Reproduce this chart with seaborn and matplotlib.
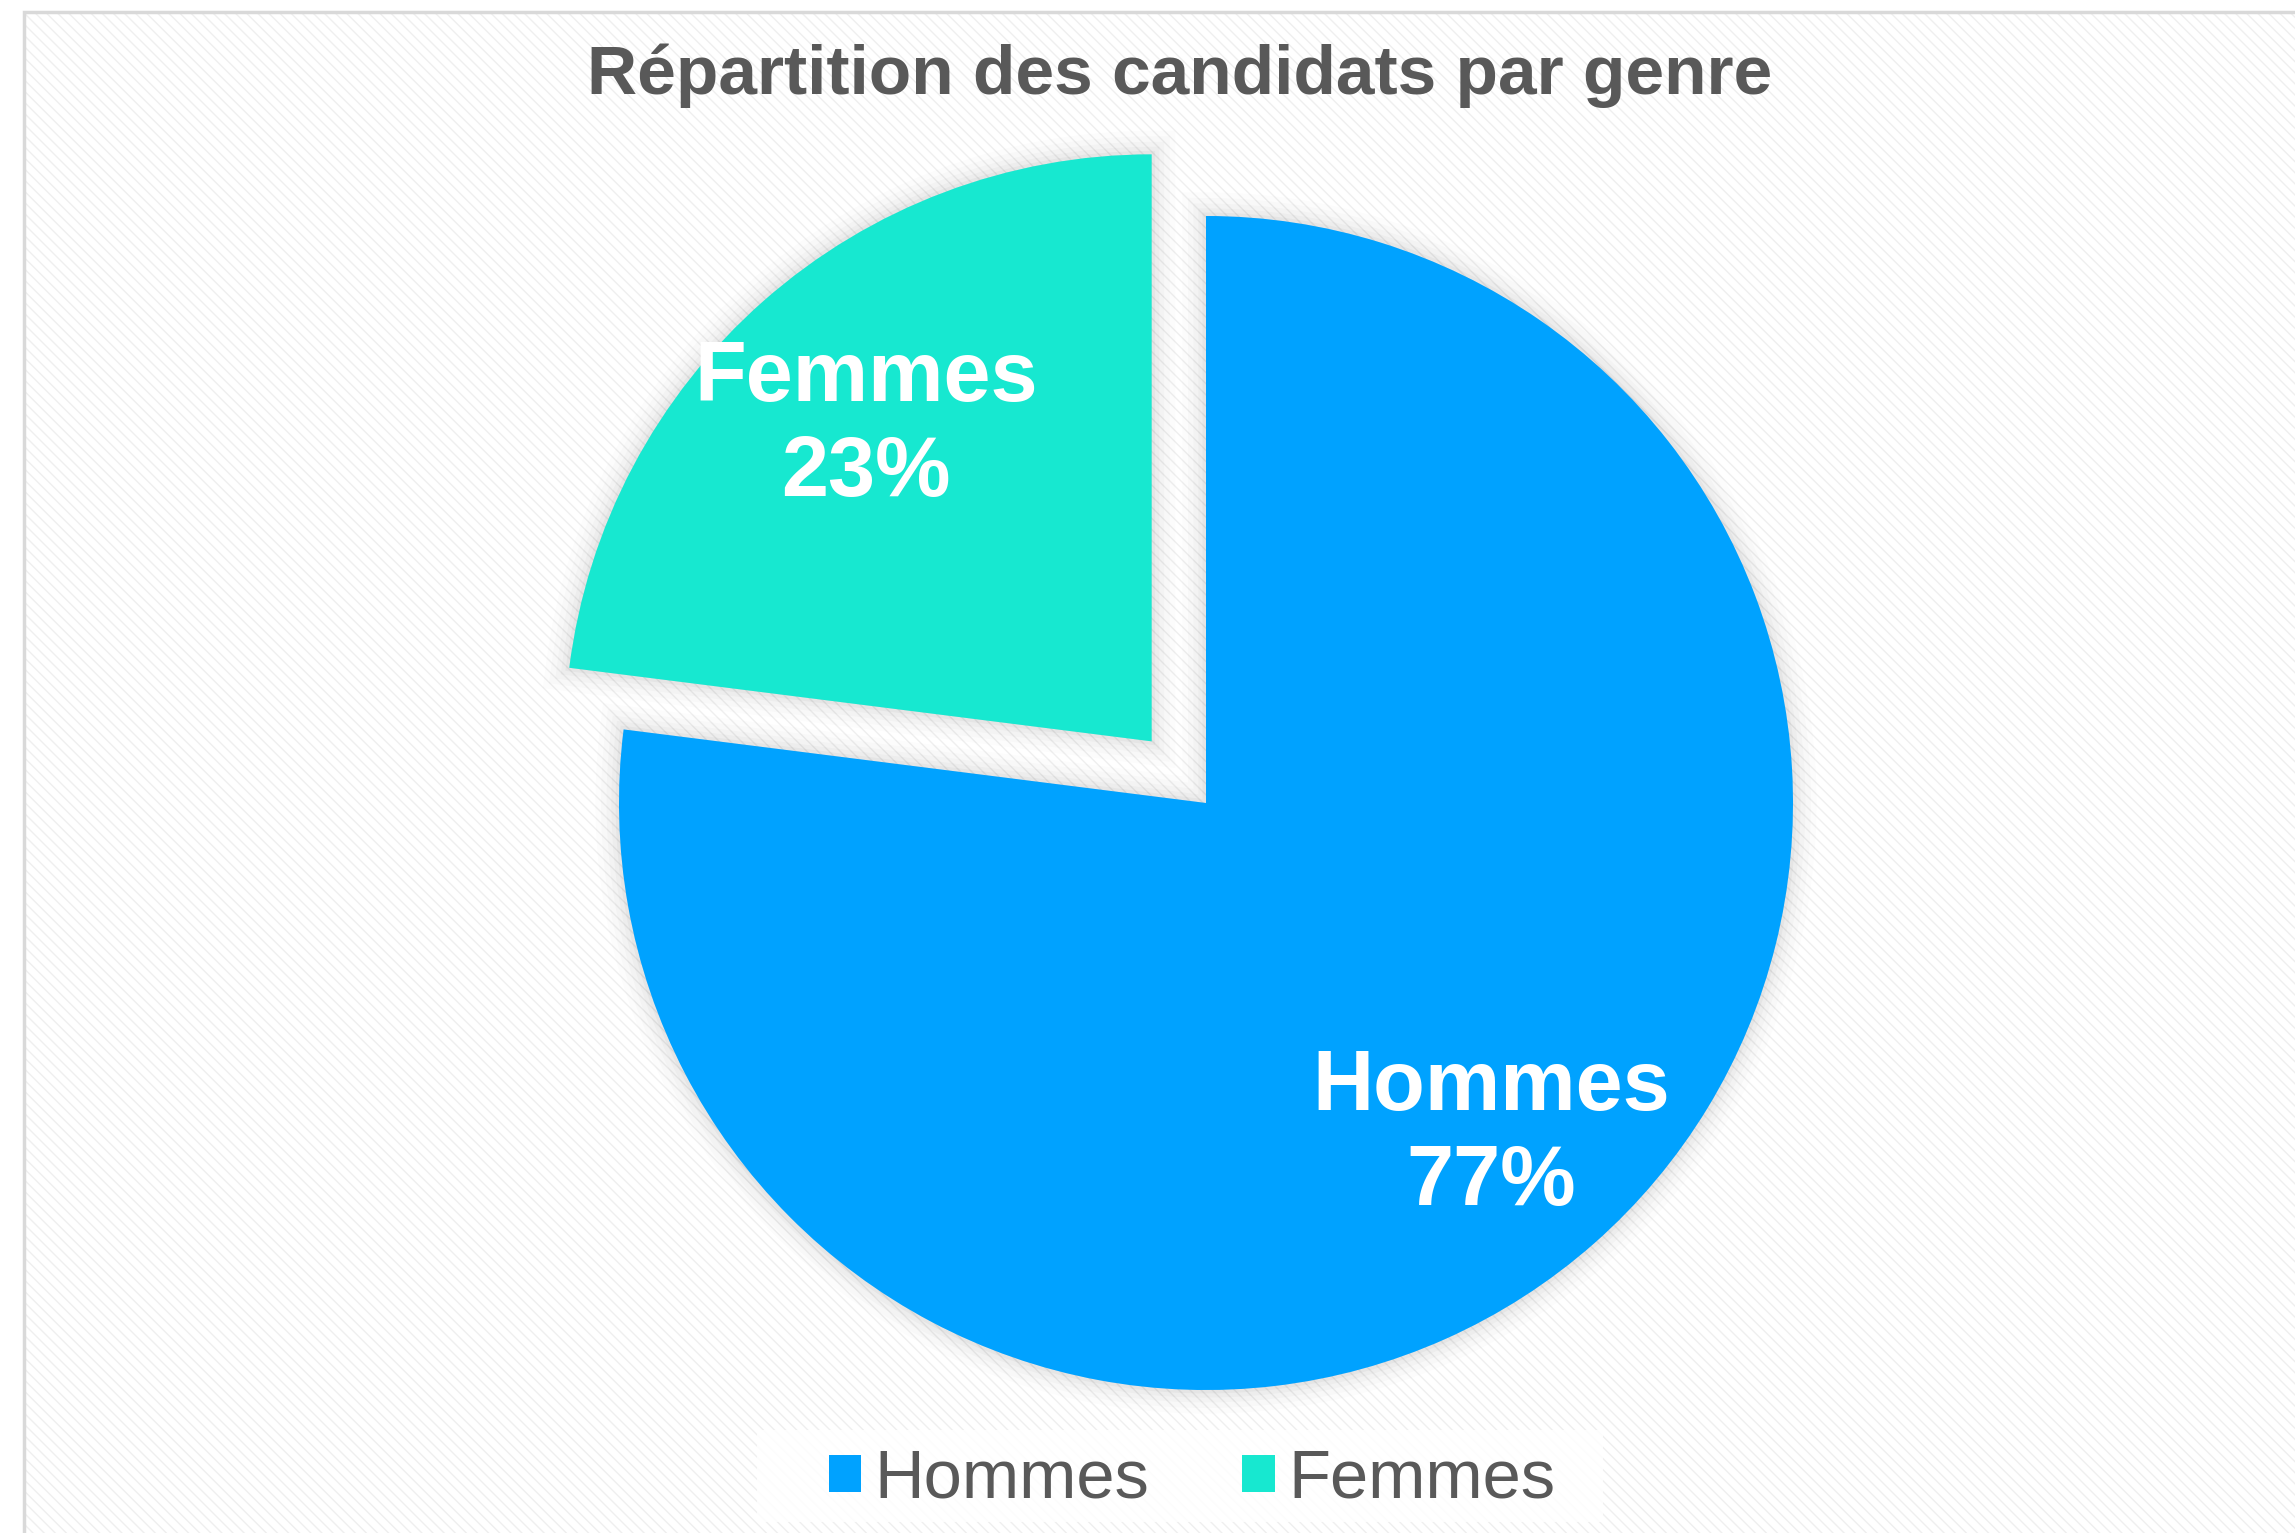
import matplotlib
matplotlib.use("Agg")
import matplotlib.pyplot as plt
import matplotlib.patheffects as pe
from matplotlib.patches import Rectangle, Patch
import seaborn as sns

# ---- data ----
categories = ["Hommes", "Femmes"]
values = [77, 23]
colors = ["#00A2FF", "#17E8D0"]
title = "Répartition des candidats par genre"

sns.set_theme(style="white")
plt.rcParams["font.family"] = ["Liberation Sans", "DejaVu Sans"]
plt.rcParams["hatch.linewidth"] = 1.0
plt.rcParams["hatch.color"] = "#efefef"

W, H, DPI = 2295, 1533, 100
fig = plt.figure(figsize=(W / DPI, H / DPI), dpi=DPI)
fig.patch.set_facecolor("white")

# chart-area background (diagonal fine stripes) and frame
x0, y0 = 24 / W, 1 - 12 / H
bg = Rectangle((x0, -0.05), 1.1 - x0, y0 + 0.05, transform=fig.transFigure,
               facecolor="white", edgecolor="#efefef", hatch="\\\\\\", linewidth=0,
               zorder=-10)
fig.patches.append(bg)
frame = Rectangle((x0, -0.05), 1.1 - x0, y0 + 0.05, transform=fig.transFigure,
                  facecolor="none", edgecolor="#d9d9d9", linewidth=2.5, zorder=-9)
fig.patches.append(frame)

# legend background box
lb = Rectangle((757 / W, 1 - 1522 / H), (1603 - 757) / W, (1522 - 1430) / H,
               transform=fig.transFigure, facecolor="white", alpha=0.85,
               edgecolor="none", zorder=-8)
fig.patches.append(lb)

ax = fig.add_axes([0, 0, 1, 1])
ax.set_facecolor("none")

cx, cy, R = 1206, 803, 587
it = iter(categories)
wedges, texts, autotexts = ax.pie(
    values, colors=colors, startangle=90, counterclock=False,
    explode=[0, 0.14], radius=1,
    autopct=lambda p: f"{next(it)}\n{p:.0f}%", pctdistance=0.735,
    textprops=dict(color="white", fontsize=61, fontweight="bold"),
    wedgeprops=dict(linewidth=0),
)
for t in autotexts:
    t.set_linespacing(1.25)
    x, y = t.get_position()
    t.set_position((x, y - 0.015))

shadow = []
for w, a in [(34, 0.012), (26, 0.015), (18, 0.02), (11, 0.025), (5, 0.03)]:
    shadow.append(pe.Stroke(linewidth=w, foreground="black", alpha=a))
shadow.append(pe.Normal())
for w in wedges:
    w.set_path_effects(shadow)

ax.set_xlim(-cx / R, (W - cx) / R)
ax.set_ylim(-(H - cy) / R, cy / R)
ax.set_aspect("auto")
ax.axis("off")

fig.text(1180 / W, 1 - 76 / H, title, ha="center", va="center",
         fontsize=50, fontweight="bold", color="#595959")

handles = [Patch(facecolor=c, edgecolor="none", label=l) for c, l in zip(colors, categories)]
leg = fig.legend(handles=handles, loc="center", bbox_to_anchor=(1192 / W, 1 - 1480 / H),
                 ncol=2, frameon=False, fontsize=49.5, handlelength=0.47, handleheight=0.47,
                 handletextpad=0.2, columnspacing=1.35, borderpad=0.2)
for t in leg.get_texts():
    t.set_color("#595959")

fig.savefig("out.png", dpi=DPI)
